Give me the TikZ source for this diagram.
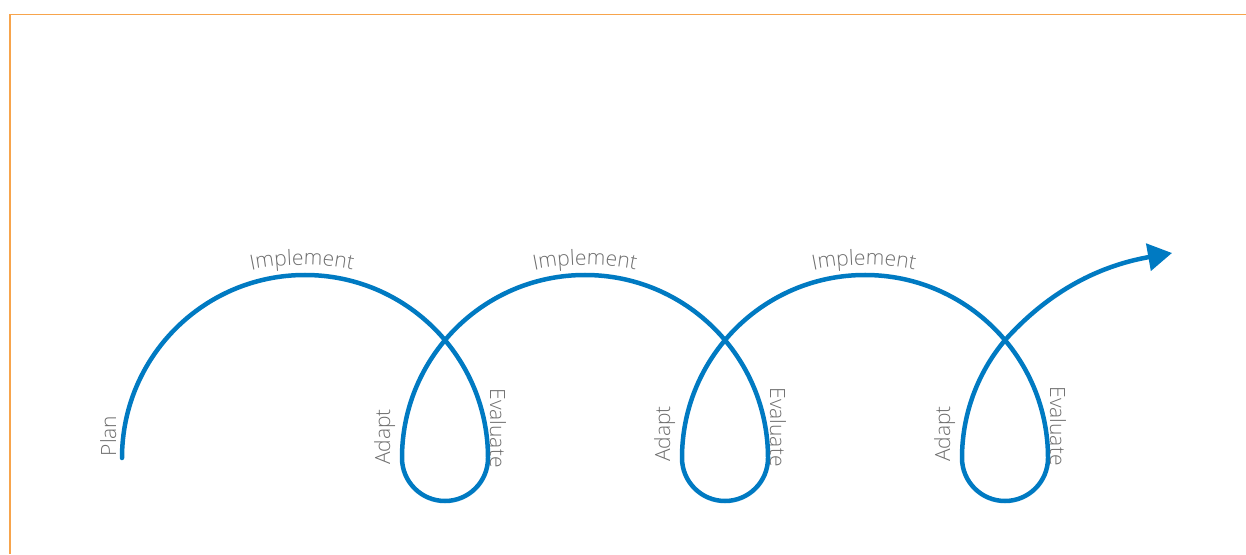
\documentclass[tikz,border=0pt]{standalone}
\usepackage{fontspec}
\usetikzlibrary{arrows.meta,decorations.text}
\IfFontExistsTF{Open Sans Light}{\newfontfamily\lblfam{Open Sans Light}}{\newfontfamily\lblfam{Open Sans}}
\newcommand\lblfont{\lblfam\fontsize{21}{25}\selectfont}
\definecolor{flowblue}{RGB}{0,122,194}
\definecolor{lblgray}{RGB}{110,110,110}
\definecolor{frameorange}{RGB}{247,164,76}

\begin{document}
\begin{tikzpicture}[x=1pt,y=1pt,
  flow/.style={draw=flowblue,line width=4.5pt,line cap=round},
  frameline/.style={draw=frameorange,line width=1.5pt},
  upword/.style={font=\lblfont,text=lblgray,rotate=90,anchor=base,inner sep=0pt},
  downword/.style={font=\lblfont,text=lblgray,rotate=-90,anchor=base,inner sep=0pt},
  arcword/.style={decorate,decoration={text along path,text={|\lblfont|#1},text align=center,text color=lblgray}}
]
\useasboundingbox (0,0) rectangle (1246,554);

% frame edges
\coordinate (fBL) at (10,0);
\coordinate (fTL) at (10,539.5);
\coordinate (fTR) at (1246,539.5);
\draw[frameline] (fBL) -- (fTL) -- (fTR);

% the spiral
\coordinate (start) at (122,96);
\coordinate (tip) at (1172,301);
\draw[flow,-{Triangle[length=24pt,width=27pt]}] (start)
  arc[start angle=180,end angle=0,radius=183pt]
  arc[start angle=0,end angle=-180,radius=43pt]
  arc[start angle=180,end angle=0,radius=183pt]
  arc[start angle=0,end angle=-180,radius=43pt]
  arc[start angle=180,end angle=0,radius=183pt]
  arc[start angle=0,end angle=-180,radius=43pt]
  arc[start angle=180,end angle=139.9,radius=183pt]
  .. controls +(48:60pt) and +(190:80pt) .. (tip);

% labels
\node[upword] (plan) at (116,118) {Plan};

\coordinate (i1) at (302,39);
\coordinate (i2) at (585,39);
\coordinate (i3) at (864,39);
\path[arcword=Implement] (i1) ++(125:250pt) arc[start angle=125,end angle=55,radius=250pt];
\path[arcword=Implement] (i2) ++(125:250pt) arc[start angle=125,end angle=55,radius=250pt];
\path[arcword=Implement] (i3) ++(125:250pt) arc[start angle=125,end angle=55,radius=250pt];

\node[upword] (adapt1) at (390,117) {Adapt};
\node[upword] (adapt2) at (670,120) {Adapt};
\node[upword] (adapt3) at (950,120) {Adapt};

\node[downword] (eval1) at (490,126) {Evaluate};
\node[downword] (eval2) at (770,127) {Evaluate};
\node[downword] (eval3) at (1050,128) {Evaluate};
\end{tikzpicture}
\end{document}
